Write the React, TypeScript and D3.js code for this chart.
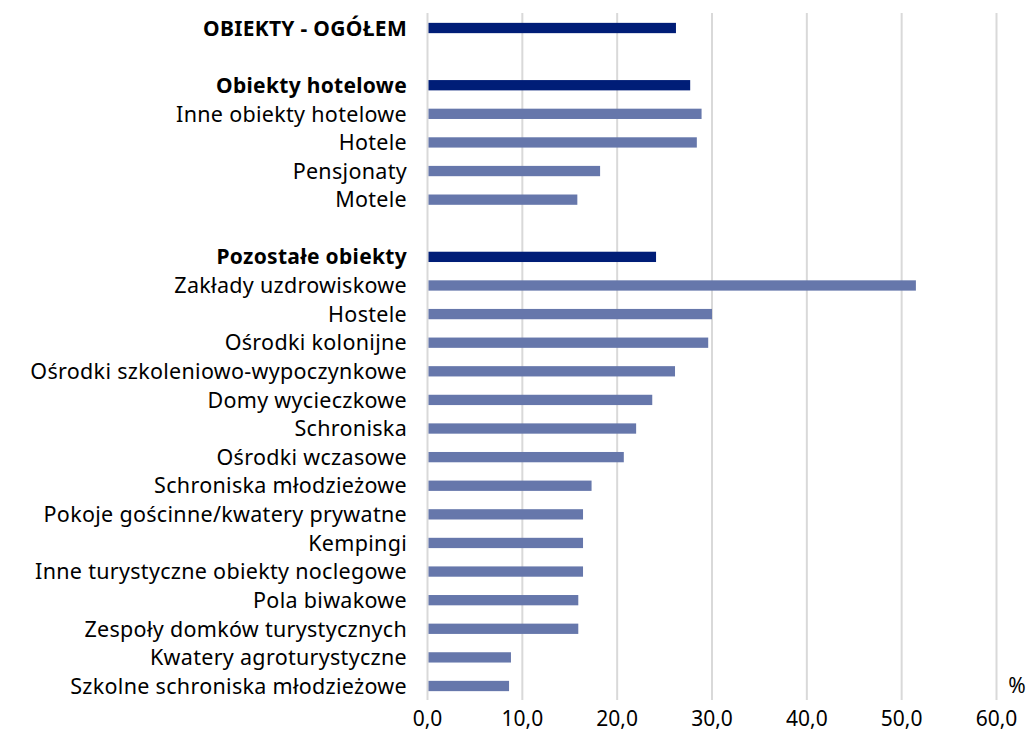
import React from 'react';
import * as d3 from 'd3';

// rows top-to-bottom; blank label = spacer row
const categories = [
  'OBIEKTY - OGÓŁEM',
  '',
  'Obiekty hotelowe',
  'Inne obiekty hotelowe',
  'Hotele',
  'Pensjonaty',
  'Motele',
  ' ',
  'Pozostałe obiekty',
  'Zakłady uzdrowiskowe',
  'Hostele',
  'Ośrodki kolonijne',
  'Ośrodki szkoleniowo-wypoczynkowe',
  'Domy wycieczkowe',
  'Schroniska',
  'Ośrodki wczasowe',
  'Schroniska młodzieżowe',
  'Pokoje gościnne/kwatery prywatne',
  'Kempingi',
  'Inne turystyczne obiekty noclegowe',
  'Pola biwakowe',
  'Zespoły domków turystycznych',
  'Kwatery agroturystyczne',
  'Szkolne schroniska młodzieżowe',
];

const values: (number | null)[] = [
  26.2, null, 27.7, 28.9, 28.4, 18.2, 15.8, null,
  24.1, 51.5, 30.0, 29.6, 26.1, 23.7, 22.0, 20.7,
  17.3, 16.4, 16.4, 16.4, 15.9, 15.9, 8.8, 8.6,
];

const summaryRows = ['OBIEKTY - OGÓŁEM', 'Obiekty hotelowe', 'Pozostałe obiekty'];

const xTicks = [0, 10, 20, 30, 40, 50, 60];

const W = 1029;
const H = 733;
const FONT = "'Noto Sans', 'Open Sans', sans-serif";

export default function App() {
  const x = d3.scaleLinear().domain([0, 60]).range([427.5, 996.5]);
  const y = d3.scaleBand<string>().domain(categories).range([13.7, 700.3]).paddingInner(0.64).paddingOuter(0.32);
  const fmt = (v: number) => v.toFixed(1).replace('.', ',');

  return (
    <svg width={W} height={H} style={{ position: 'absolute', left: 0, top: 0, background: '#fff' }} fontFamily={FONT}>
      {/* grid */}
      {xTicks.map(t => (
        <line key={t} x1={x(t)} x2={x(t)} y1={13} y2={700} stroke="#d9d9d9" strokeWidth={2} />
      ))}
      {/* bars */}
      {categories.map((c, i) => {
        const v = values[i];
        if (v == null) return null;
        const summary = summaryRows.includes(c);
        return (
          <rect
            key={c}
            x={x(0) + 1}
            y={y(c)!}
            width={x(v) - x(0) - 1}
            height={y.bandwidth()}
            fill={summary ? '#001d77' : '#6677ab'}
          />
        );
      })}
      {/* labels */}
      {categories.map((c, i) => {
        if (values[i] == null) return null;
        const summary = summaryRows.includes(c);
        return (
          <text
            key={'l' + c}
            x={407}
            y={y(c)! + y.bandwidth() / 2}
            dy="0.36em"
            textAnchor="end"
            fontSize={summary ? 21 : 21.5}
            letterSpacing={0.3}
            fontWeight={summary ? 700 : 400}
            fill="#000"
          >
            {c}
          </text>
        );
      })}
      {/* x tick labels */}
      {xTicks.map(t => (
        <text key={'t' + t} x={x(t)} y={726} textAnchor="middle" fontSize={21} fill="#000">
          {fmt(t)}
        </text>
      ))}
      <text x={1017} y={693} textAnchor="middle" fontSize={21} fill="#000">%</text>
    </svg>
  );
}
